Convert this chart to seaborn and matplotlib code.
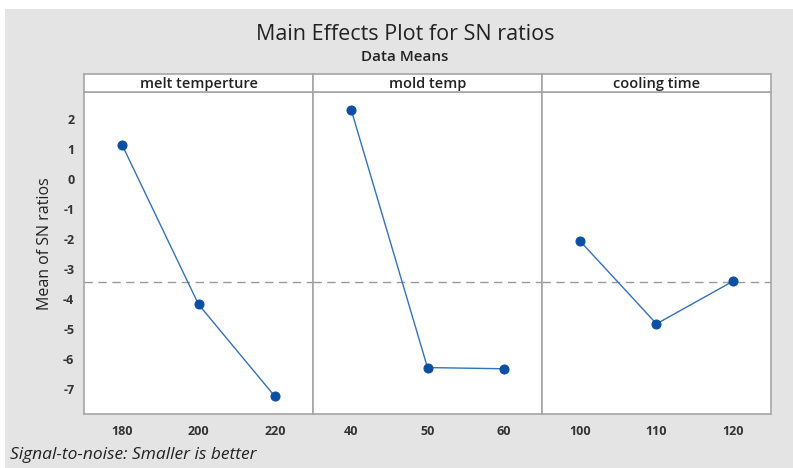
import matplotlib
matplotlib.use("Agg")
import matplotlib.pyplot as plt
import numpy as np
import pandas as pd
import seaborn as sns

# factors, levels and mean SN ratios
factors = ["melt temperture", "mold temp", "cooling time"]
melt_levels = ["180", "200", "220"]
melt_sn = [1.13, -4.19, -7.26]
mold_levels = ["40", "50", "60"]
mold_sn = [2.31, -6.30, -6.34]
cool_levels = ["100", "110", "120"]
cool_sn = [-2.08, -4.84, -3.42]
y_ticks = [-7, -6, -5, -4, -3, -2, -1, 0, 1, 2]

levels = [melt_levels, mold_levels, cool_levels]
values = [melt_sn, mold_sn, cool_sn]
grand_mean = np.mean(melt_sn + mold_sn + cool_sn)

sns.set_style("white")
plt.rcParams["font.family"] = ["Open Sans", "DejaVu Sans"]
plt.rcParams["axes.unicode_minus"] = False

bg = "#e4e4e4"
edge = "#a6a6a6"
blue_line = "#3271bd"
blue_dot = "#0b4fa3"

fig = plt.figure(figsize=(7.93, 4.68), dpi=100)
fig.patch.set_facecolor("white")
# grey backdrop (small white margin on top/left as in the scan)
fig.add_artist(plt.Rectangle((5 / 793, 0), 1, 1 - 9 / 468, transform=fig.transFigure,
                             facecolor=bg, edgecolor="none", zorder=-10))

left, right = 84 / 793, 771 / 793
bottom, top = 1 - 414 / 468, 1 - 92 / 468
strip_h = 18 / 468
w = (right - left) / 3

axes = []
for i, name in enumerate(factors):
    ax = fig.add_axes([left + i * w, bottom, w, top - bottom],
                      sharey=axes[0] if axes else None)
    df = pd.DataFrame({"level": levels[i], "sn": values[i]})
    sns.pointplot(data=df, x="level", y="sn", ax=ax, color=blue_line,
                  markers="o", linewidth=1.0, markersize=6.5)
    for coll in ax.collections:
        coll.set_facecolor(blue_dot)
        coll.set_edgecolor(blue_dot)
    for ln in ax.lines:
        ln.set_markerfacecolor(blue_dot)
        ln.set_markeredgecolor(blue_dot)
    ax.axhline(grand_mean, color="#999999", lw=1.0, ls=(0, (6, 4)), zorder=0)
    ax.set_xlim(-0.5, 2.5)
    ax.set_ylim(-7.85, 2.9)
    ax.set_xlabel("")
    ax.set_ylabel("")
    ax.set_facecolor("white")
    for s in ax.spines.values():
        s.set_color(edge)
        s.set_linewidth(1.2)
    ax.tick_params(axis="x", length=3, color=edge, labelsize=9,
                   labelcolor="#333333", pad=5)
    for t in ax.get_xticklabels():
        t.set_fontweight("bold")
    if i == 0:
        ax.set_yticks(y_ticks)
        ax.tick_params(axis="y", length=3, color=edge, labelsize=9,
                       labelcolor="#333333", pad=4)
        for t in ax.get_yticklabels():
            t.set_fontweight("bold")
        ax.set_ylabel("Mean of SN ratios", fontsize=11.5, color="#222222")
        ax.yaxis.set_label_coords(-0.135, 0.53)
    else:
        ax.tick_params(axis="y", left=False, labelleft=False)
    axes.append(ax)

    # strip header
    sax = fig.add_axes([left + i * w, top, w, strip_h])
    sax.set_xticks([])
    sax.set_yticks([])
    sax.set_facecolor("white")
    for s in sax.spines.values():
        s.set_color(edge)
        s.set_linewidth(1.2)
    sax.text(0.5, 0.45, name, ha="center", va="center", fontsize=10.5,
             fontweight="semibold", color="#222222", transform=sax.transAxes)

fig.text(405 / 793, 1 - 35 / 468, "Main Effects Plot for SN ratios", ha="center",
         va="center", fontsize=15.5, color="#222222")
fig.text(405 / 793, 1 - 57 / 468, "Data Means", ha="center", va="center",
         fontsize=11, fontweight="semibold", color="#222222")
fig.text(10 / 793, 1 - 455 / 468, "Signal-to-noise: Smaller is better",
         ha="left", va="center", fontsize=12.5, style="italic", color="#222222")

plt.savefig("out.png", dpi=100)
